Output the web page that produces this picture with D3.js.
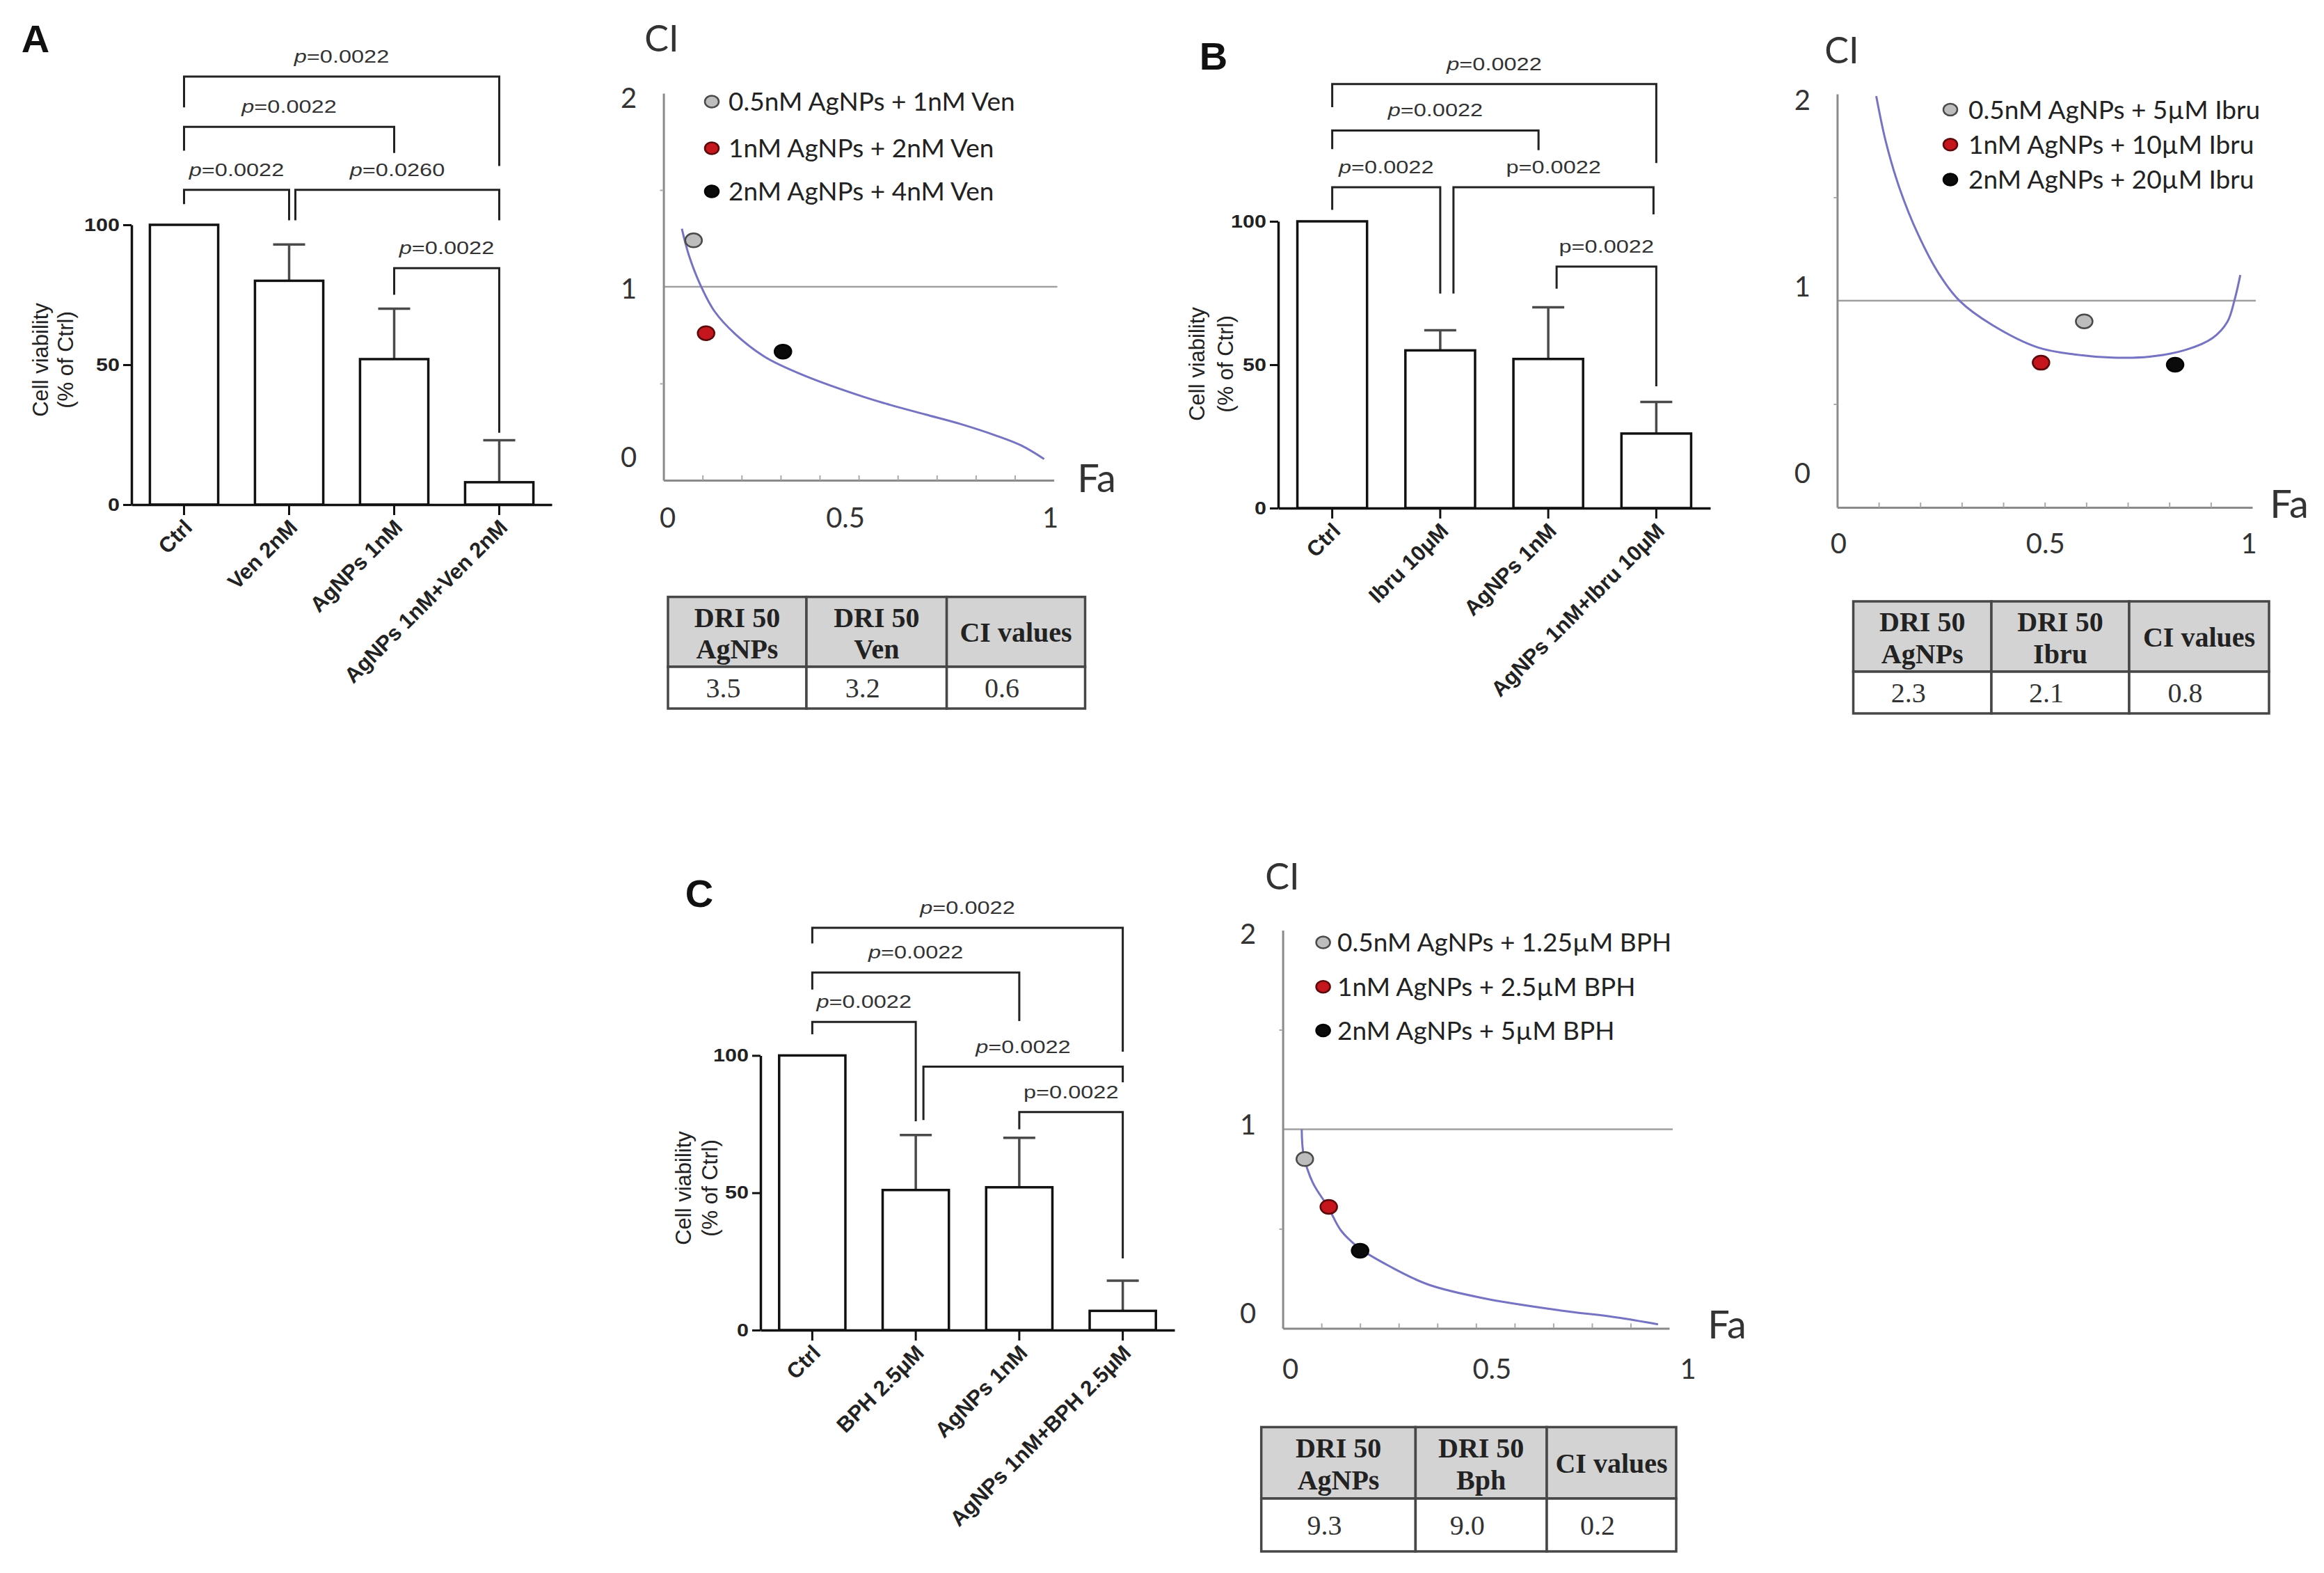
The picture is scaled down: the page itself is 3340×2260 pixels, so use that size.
<!DOCTYPE html>
<html><head><meta charset="utf-8">
<script src="https://cdn.jsdelivr.net/npm/d3@7"></script>
<style>
body{margin:0;background:#fff}
svg{display:block;background:#fff}
</style></head><body>
<svg width="3340" height="2260"></svg>
<script>
// ---------- data: bar charts ----------
var catsA = ["Ctrl", "Ven 2nM", "AgNPs 1nM", "AgNPs 1nM+Ven 2nM"];
var meanA = [100, 80, 52, 8];
var sdA   = [0, 13, 18, 15];
var pairsA = [[0,3],[0,2],[0,1],[1,3],[2,3]];
var pvalA  = ["0.0022","0.0022","0.0022","0.0260","0.0022"];

var catsB = ["Ctrl", "Ibru 10\u03bcM", "AgNPs 1nM", "AgNPs 1nM+Ibru 10\u03bcM"];
var meanB = [100, 55, 52, 26];
var sdB   = [0, 7, 18, 11];
var pairsB = [[0,3],[0,2],[0,1],[1,3],[2,3]];
var pvalB  = ["0.0022","0.0022","0.0022","0.0022","0.0022"];

var catsC = ["Ctrl", "BPH 2.5\u03bcM", "AgNPs 1nM", "AgNPs 1nM+BPH 2.5\u03bcM"];
var meanC = [100, 51, 52, 7];
var sdC   = [0, 20, 18, 11];
var pairsC = [[0,3],[0,2],[0,1],[1,3],[2,3]];
var pvalC  = ["0.0022","0.0022","0.0022","0.0022","0.0022"];

var yTicks = [0, 50, 100];

// ---------- data: CI plots ----------
var curveFaA = [0.047,0.065,0.095,0.130,0.184,0.261,0.362,0.511,0.58,0.671,0.762,0.853,0.916,0.975];
var curveCiA = [1.30,1.163,1.007,0.875,0.755,0.636,0.54,0.432,0.39,0.34,0.29,0.23,0.18,0.11];
var ptFaA = [0.077, 0.109, 0.306];
var ptCiA = [1.24, 0.76, 0.665];
var legA = ["0.5nM AgNPs + 1nM Ven", "1nM AgNPs + 2nM Ven", "2nM AgNPs + 4nM Ven"];

var curveFaB = [0.094,0.117,0.150,0.195,0.245,0.296,0.373,0.483,0.572,0.662,0.752,0.841,0.904,0.94,0.958,0.971];
var curveCiB = [1.99,1.77,1.545,1.32,1.13,0.997,0.883,0.774,0.74,0.725,0.729,0.763,0.819,0.898,1.01,1.124];
var ptFaB = [0.595, 0.491, 0.814];
var ptCiB = [0.90, 0.70, 0.69];
var legB = ["0.5nM AgNPs + 5\u00b5M Ibru", "1nM AgNPs + 10\u00b5M Ibru", "2nM AgNPs + 20\u00b5M Ibru"];

var curveFaC = [0.049,0.054,0.078,0.117,0.151,0.2,0.278,0.376,0.522,0.717,0.863,0.971];
var curveCiC = [1.0,0.87,0.73,0.61,0.49,0.40,0.31,0.22,0.15,0.09,0.055,0.02];
var ptFaC = [0.057, 0.119, 0.2];
var ptCiC = [0.85, 0.61, 0.39];
var legC = ["0.5nM AgNPs + 1.25\u00b5M BPH", "1nM AgNPs + 2.5\u00b5M BPH", "2nM AgNPs + 5\u00b5M BPH"];

var ciTicks = [0, 1, 2];
var faTicks = [0, 0.5, 1];
var faLabels = ["0", "0.5", "1"];

// ---------- data: tables ----------
var headA = [["DRI 50","AgNPs"],["DRI 50","Ven"],["CI values"]];
var valsA = ["3.5","3.2","0.6"];
var headB = [["DRI 50","AgNPs"],["DRI 50","Ibru"],["CI values"]];
var valsB = ["2.3","2.1","0.8"];
var headC = [["DRI 50","AgNPs"],["DRI 50","Bph"],["CI values"]];
var valsC = ["9.3","9.0","0.2"];

var ptColors = ["#bdbdbd", "#c4161c", "#0b0b0b"];
var ptStroke = ["#4a4a4a", "#5a0a0a", "#000"];

var svg = d3.select('svg');
var SANS = "'Liberation Sans', Arial, sans-serif";
var CAL = "Lato, 'Open Sans', sans-serif";
var SERIF = "'Liberation Serif', 'Times New Roman', serif";

// ---------- bar panel ----------
function barPanel(o){
    var g = svg.append('g');
    var xs = d3.scaleBand().domain(o.cats).range([o.x0, o.x1]).paddingInner(o.pad).paddingOuter(o.pad/2);
    var ys = d3.scaleLinear().domain([0,100]).range([o.y0, o.y100]);
    var rows = o.cats.map(function(c,i){ return {c:c, m:o.mean[i], s:o.sd[i]}; });

    // error bars (upper only)
    rows.filter(function(d){ return d.s > 0; }).forEach(function(d){
        var cx = xs(d.c) + xs.bandwidth()/2;
        g.append('line').attr('x1',cx).attr('x2',cx).attr('y1',ys(d.m)).attr('y2',ys(d.m+d.s))
            .attr('stroke','#4a4a4a').attr('stroke-width',3.5);
        g.append('line').attr('x1',cx-23).attr('x2',cx+23).attr('y1',ys(d.m+d.s)).attr('y2',ys(d.m+d.s))
            .attr('stroke','#4a4a4a').attr('stroke-width',3.5);
    });

    g.selectAll('rect.bar').data(rows).enter().append('rect')
        .attr('class','bar')
        .attr('x', function(d){ return xs(d.c); })
        .attr('width', xs.bandwidth())
        .attr('y', function(d){ return ys(d.m); })
        .attr('height', function(d){ return o.y0 - ys(d.m); })
        .attr('fill','#fff').attr('stroke','#111').attr('stroke-width',3.5);

    // axes
    var ya = g.append('g').attr('transform','translate('+o.x0+',0)')
        .call(d3.axisLeft(ys).tickValues(yTicks).tickSize(12).tickSizeOuter(0));
    ya.select('.domain').attr('stroke','#111').attr('stroke-width',3.5);
    ya.selectAll('.tick line').attr('stroke','#111').attr('stroke-width',3);
    ya.selectAll('.tick text').attr('x',-14).attr('transform','scale(1.22,1)')
        .style('font-family',SANS).style('font-weight','bold').style('font-size','25px').attr('fill','#222');

    var xa = g.append('g').attr('transform','translate(0,'+o.y0+')')
        .call(d3.axisBottom(xs).tickSize(15).tickSizeOuter(0));
    xa.select('.domain').attr('stroke','#111').attr('stroke-width',3.5);
    xa.selectAll('.tick line').attr('stroke','#111').attr('stroke-width',3);
    xa.selectAll('.tick text').attr('x',0).attr('y',0).attr('dy','0.35em')
        .attr('transform','translate(6,27) rotate(-45)').style('text-anchor','end')
        .style('font-family',SANS).style('font-weight','bold').style('font-size','31px').attr('fill','#222');

    // significance brackets
    o.pairs.forEach(function(p,i){
        var b = o.brk[i];
        var xa_ = xs(o.cats[p[0]]) + xs.bandwidth()/2 + (b.da||0);
        var xb_ = xs(o.cats[p[1]]) + xs.bandwidth()/2 + (b.db||0);
        g.append('path')
            .attr('d','M'+xa_+','+ys(b.a)+'V'+ys(b.lv)+'H'+xb_+'V'+ys(b.b))
            .attr('fill','none').attr('stroke','#222').attr('stroke-width',3);
        var t = g.append('text')
            .attr('transform','translate('+((xa_+xb_)/2)+','+(ys(b.lv)-20)+') scale(1.3,1)')
            .attr('text-anchor','middle')
            .style('font-family',SANS).style('font-size','25px').attr('fill','#333');
        t.append('tspan').text('p').style('font-style', b.it ? 'italic' : 'normal');
        t.append('tspan').text('=' + o.pv[i]);
    });

    // y label
    var yl = g.append('g').style('font-family',SANS).style('font-size','31px').attr('fill','#222');
    yl.append('text').text('Cell viability').attr('text-anchor','middle').attr('dy','0.35em')
        .attr('transform','translate('+o.ylx[0]+','+o.yly+') rotate(-90)');
    yl.append('text').text('(% of Ctrl)').attr('text-anchor','middle').attr('dy','0.35em')
        .attr('transform','translate('+o.ylx[1]+','+o.yly+') rotate(-90)');

    svg.append('text').text(o.letter).attr('x',o.lp[0]).attr('y',o.lp[1]).attr('dy','0.36em')
        .attr('text-anchor','middle').style('font-family',SANS).style('font-weight','bold')
        .style('font-size','56px').attr('fill','#111');
}

// ---------- CI panel ----------
function ciPanel(o){
    var g = svg.append('g');
    var xs = d3.scaleLinear().domain([0,1]).range([o.x0, o.x1]);
    var ys = d3.scaleLinear().domain([0,2]).range([o.yb, o.yt]);

    // reference line at CI = 1
    g.append('line').attr('x1',o.x0).attr('x2',o.x1+5).attr('y1',ys(1)).attr('y2',ys(1))
        .attr('stroke','#a0a0a0').attr('stroke-width',2.5);

    var ya = g.append('g').attr('transform','translate('+o.x0+',0)')
        .call(d3.axisLeft(ys).tickValues([0.5,1.5]).tickSize(5).tickSizeOuter(0).tickFormat(''));
    ya.select('.domain').attr('stroke','#8a8a8a').attr('stroke-width',3);
    ya.selectAll('.tick line').attr('stroke','#aaa').attr('stroke-width',2);

    var xa = g.append('g').attr('transform','translate(0,'+o.yb+')')
        .call(d3.axisBottom(xs).tickValues(d3.range(1,10).map(function(i){ return i/10; }))
            .tickSize(-7).tickSizeOuter(0).tickFormat(''));
    xa.select('.domain').attr('stroke','#8a8a8a').attr('stroke-width',3);
    xa.selectAll('.tick line').attr('stroke','#aaa').attr('stroke-width',2);

    // tick labels
    g.selectAll('text.yl').data(ciTicks).enter().append('text')
        .attr('x', o.x0 - 50)
        .attr('y', function(d,i){ return ys(d) + o.ylDy[i]; })
        .attr('dy','0.36em').attr('text-anchor','middle')
        .style('font-family',CAL).style('font-size','40px').attr('fill','#333')
        .text(function(d){ return d; });
    g.selectAll('text.xl').data(faTicks).enter().append('text')
        .attr('x', function(d,i){ return xs(d) + o.xlDx[i]; })
        .attr('y', o.yb + o.xlY)
        .attr('dy','0.36em').attr('text-anchor','middle')
        .style('font-family',CAL).style('font-size','40px').attr('fill','#333')
        .text(function(d,i){ return faLabels[i]; });

    g.append('text').text('CI').attr('x',o.ciPos[0]).attr('y',o.ciPos[1]).attr('dy','0.36em')
        .attr('text-anchor','middle').style('font-family',CAL).style('font-size','52px').attr('fill','#333');
    g.append('text').text('Fa').attr('x',o.faPos[0]).attr('y',o.faPos[1]).attr('dy','0.36em')
        .attr('text-anchor','middle').style('font-family',CAL).style('font-size','56px').attr('fill','#333');

    // fitted curve
    var pts = o.cfa.map(function(f,i){ return [f, o.cci[i]]; });
    g.append('path').datum(pts)
        .attr('d', d3.line().x(function(d){ return xs(d[0]); }).y(function(d){ return ys(d[1]); })
            .curve(d3.curveCatmullRom.alpha(0.5)))
        .attr('fill','none').attr('stroke','#7672c4').attr('stroke-width',3);

    // combination points
    g.selectAll('ellipse.pt').data(o.pfa).enter().append('ellipse')
        .attr('cx', function(d){ return xs(d); })
        .attr('cy', function(d,i){ return ys(o.pci[i]); })
        .attr('rx', 12).attr('ry', 10)
        .attr('fill', function(d,i){ return ptColors[i]; })
        .attr('stroke', function(d,i){ return ptStroke[i]; }).attr('stroke-width',2.5);

    // legend
    o.leg.forEach(function(s,i){
        g.append('ellipse').attr('cx',o.lx).attr('cy',o.ly[i]).attr('rx',10).attr('ry',8.5)
            .attr('fill',ptColors[i]).attr('stroke',ptStroke[i]).attr('stroke-width',2.5);
        g.append('text').text(s).attr('x',o.tx).attr('y',o.ly[i]).attr('dy','0.36em')
            .style('font-family',CAL).style('font-size','37px').attr('fill','#222');
    });

    // DRI / CI table
    var t = o.tab, tg = svg.append('g');
    for (var c = 0; c < 3; c++){
        tg.append('rect').attr('x',t.xs[c]).attr('y',t.y0).attr('width',t.xs[c+1]-t.xs[c]).attr('height',t.y1-t.y0)
            .attr('fill','#d3d3d3').attr('stroke','#474747').attr('stroke-width',3.5);
        tg.append('rect').attr('x',t.xs[c]).attr('y',t.y1).attr('width',t.xs[c+1]-t.xs[c]).attr('height',t.y2-t.y1)
            .attr('fill','#fff').attr('stroke','#474747').attr('stroke-width',3.5);
        var cx = (t.xs[c]+t.xs[c+1])/2, h = t.y1 - t.y0, lines = o.head[c];
        lines.forEach(function(s,k){
            var yy = lines.length === 1 ? t.y0 + h/2 : t.y0 + h*(k === 0 ? 0.29 : 0.74);
            tg.append('text').text(s).attr('x',cx).attr('y',yy).attr('dy','0.35em').attr('text-anchor','middle')
                .style('font-family',SERIF).style('font-weight','bold').style('font-size','40px').attr('fill','#222');
        });
        tg.append('text').text(o.vals[c]).attr('x',cx - 20).attr('y',(t.y1+t.y2)/2).attr('dy','0.35em')
            .attr('text-anchor','middle').style('font-family',SERIF).style('font-size','40px').attr('fill','#333');
    }
}

// ---------- panels ----------
barPanel({cats:catsA, mean:meanA, sd:sdA, pairs:pairsA, pv:pvalA,
    x0:189, x1:793, y0:725, y100:323, pad:0.35,
    brk:[{lv:153,a:142,b:121,it:1},{lv:135,a:126.5,b:125.7,it:1},{lv:112.5,a:107.4,b:101.6,it:1},
         {lv:112.5,a:101.6,b:101.6,da:9,it:1},{lv:84.5,a:75,b:25.7,it:1}],
    ylx:[58,94], yly:517, letter:'A', lp:[51,55]});

barPanel({cats:catsB, mean:meanB, sd:sdB, pairs:pairsB, pv:pvalB,
    x0:1837, x1:2458, y0:730, y100:318, pad:0.355,
    brk:[{lv:147.9,a:139.8,b:120.3,it:1},{lv:131.7,a:125.2,b:124.8,db:-14,it:1},{lv:111.9,a:104,b:74.8,it:1},
         {lv:111.9,a:74.8,b:102.4,da:19,db:-4,it:0},{lv:84.2,a:76.5,b:42.5,da:12,it:0}],
    ylx:[1720,1761], yly:523, letter:'B', lp:[1744,80]});

barPanel({cats:catsC, mean:meanC, sd:sdC, pairs:pairsC, pv:pvalC,
    x0:1093, x1:1688, y0:1911, y100:1516.4, pad:0.36,
    brk:[{lv:146.5,a:140.8,b:101.4,it:1},{lv:130.2,a:124,b:112.5,it:1},{lv:112.2,a:107.7,b:76,it:1},
         {lv:95.9,a:76.5,b:90.2,da:11,it:1},{lv:79.4,a:73.1,b:26.1,it:0}],
    ylx:[982,1020], yly:1707, letter:'C', lp:[1005,1283]});

ciPanel({x0:953.6, x1:1514.6, yb:690, yt:134, cfa:curveFaA, cci:curveCiA, pfa:ptFaA, pci:ptCiA,
    ylDy:[-33,3,7], xlDx:[6,-19,-5], xlY:54, ciPos:[951,55], faPos:[1576,687],
    leg:legA, lx:1023, ly:[146,213,275], tx:1047,
    tab:{xs:[960,1159,1360.6,1559.5], y0:857.6, y1:958, y2:1018}, head:headA, vals:valsA});

ciPanel({x0:2640.4, x1:3237, yb:729, yt:135, cfa:curveFaB, cci:curveCiB, pfa:ptFaB, pci:ptCiB,
    ylDy:[-49,-20,9], xlDx:[2,1,-5], xlY:52, ciPos:[2647,72], faPos:[3290,724],
    leg:legB, lx:2803, ly:[157.5,207.7,258], tx:2829,
    tab:{xs:[2663.5,2862,3060,3261], y0:864, y1:965, y2:1025}, head:headB, vals:valsB});

ciPanel({x0:1843.6, x1:2399, yb:1908.4, yt:1336.5, cfa:curveFaC, cci:curveCiC, pfa:ptFaC, pci:ptCiC,
    ylDy:[-22,-7,5], xlDx:[11,23,27], xlY:58.6, ciPos:[1843,1259], faPos:[2482,1903],
    leg:legC, lx:1901.6, ly:[1354,1417.7,1480.5], tx:1922,
    tab:{xs:[1812.7,2034.4,2223,2409], y0:2050.4, y1:2153, y2:2229}, head:headC, vals:valsC});
</script>
</body></html>
